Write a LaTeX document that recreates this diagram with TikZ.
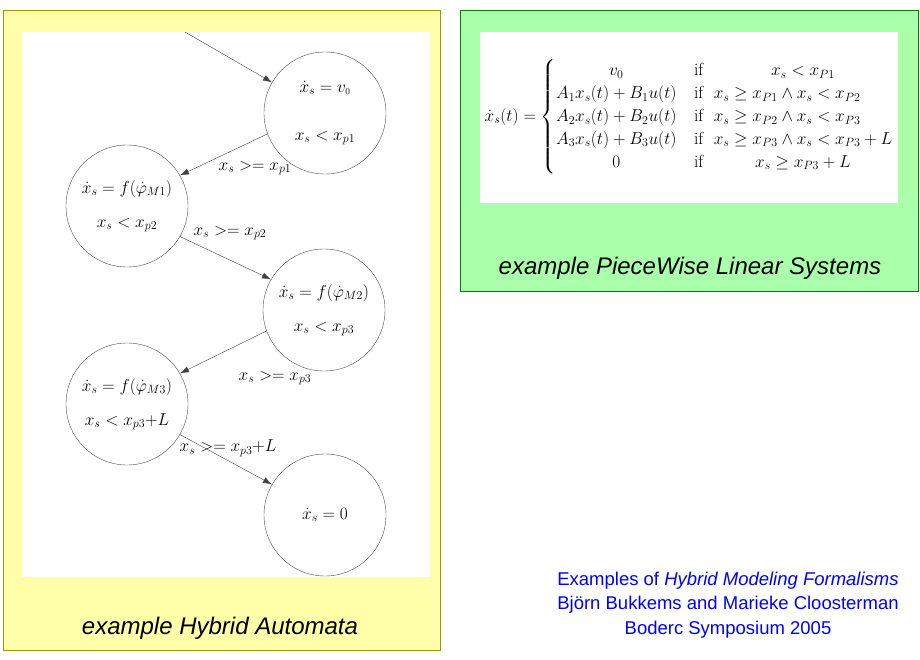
\documentclass[tikz,border=0pt]{standalone}
\usepackage{amsmath}
\usepackage{fontspec}
\setsansfont{Liberation Sans}
\usetikzlibrary{arrows.meta}
\begin{document}
\begin{tikzpicture}[x=1pt,y=-1pt,
  st/.style={circle,draw=black!70,minimum size=122pt,inner sep=0pt,align=center,font=\fontsize{18}{34}\selectfont},
  lab/.style={font=\fontsize{17}{20}\selectfont},
  arr/.style={-{Latex[length=9pt,width=6pt]},draw=black!75},
  captxt/.style={font=\sffamily\itshape\fontsize{24}{28}\selectfont}]
\useasboundingbox (0,0) rectangle (920,660);
\fill[white] (0,0) rectangle (920,660);
\draw[fill={rgb,255:red,255;green,255;blue,170},draw={rgb,255:red,153;green,153;blue,0}] (3,10) rectangle (440,650);
\fill[white] (22,32) rectangle (430,577);
\node[captxt] (ca) at (220,628) {example Hybrid Automata};
\draw[fill={rgb,255:red,170;green,255;blue,170},draw={rgb,255:red,0;green,128;blue,0}] (460,10) rectangle (918,291);
\fill[white] (480,32) rectangle (898,203);
\node[captxt] (cb) at (690,268) {example PieceWise Linear Systems};
\node[font=\fontsize{17.5}{19}\selectfont] (eq) at (689,117) {$\dot x_s(t)=\begin{cases}\hfil v_0 & \text{if}\ \ \hfil x_s<x_{P1}\\ A_1x_s(t)+B_1u(t) & \text{if}\ \ x_s\ge x_{P1}\wedge x_s<x_{P2}\\ A_2x_s(t)+B_2u(t) & \text{if}\ \ x_s\ge x_{P2}\wedge x_s<x_{P3}\\ A_3x_s(t)+B_3u(t) & \text{if}\ \ x_s\ge x_{P3}\wedge x_s<x_{P3}+L\\ \hfil 0 & \text{if}\ \ \hfil x_s\ge x_{P3}+L\end{cases}$};
\node[st] (c1) at (325,113) {$\dot x_s=v_{\scriptscriptstyle 0}$\\[14pt]$x_s<x_{p1}$};
\node[st] (c2) at (127,206) {$\dot x_s=f(\dot\varphi_{M1})$\\$x_s<x_{p2}$};
\node[st] (c3) at (324,310) {$\dot x_s=f(\dot\varphi_{M2})$\\$x_s<x_{p3}$};
\node[st] (c4) at (127,404) {$\dot x_s=f(\dot\varphi_{M3})$\\$x_s<x_{p3}{+}L$};
\node[st] (c5) at (325,515) {$\dot x_s=0$};
\coordinate (s) at (185,32);
\draw[arr] (s) -- (c1);
\draw[arr] (c1.200) -- (c2.30);
\draw[arr] (c2.-30) -- (c3.150);
\draw[arr] (c3.200) -- (c4.30);
\draw[arr] (c4.-30) -- (c5.150);
\node[lab] (l1) at (255,168) {$x_s>=x_{p1}$};
\node[lab] (l2) at (230,233) {$x_s>=x_{p2}$};
\node[lab] (l3) at (275,378) {$x_s>=x_{p3}$};
\node[lab] (l4) at (228,448) {$x_s>=x_{p3}{+}L$};
\node[blue,font=\sffamily\fontsize{18.5}{24.5}\selectfont,align=center] (cr) at (728,605) {Examples of \textit{Hybrid Modeling Formalisms}\\Björn Bukkems and Marieke Cloosterman\\Boderc Symposium 2005};
\end{tikzpicture}
\end{document}
